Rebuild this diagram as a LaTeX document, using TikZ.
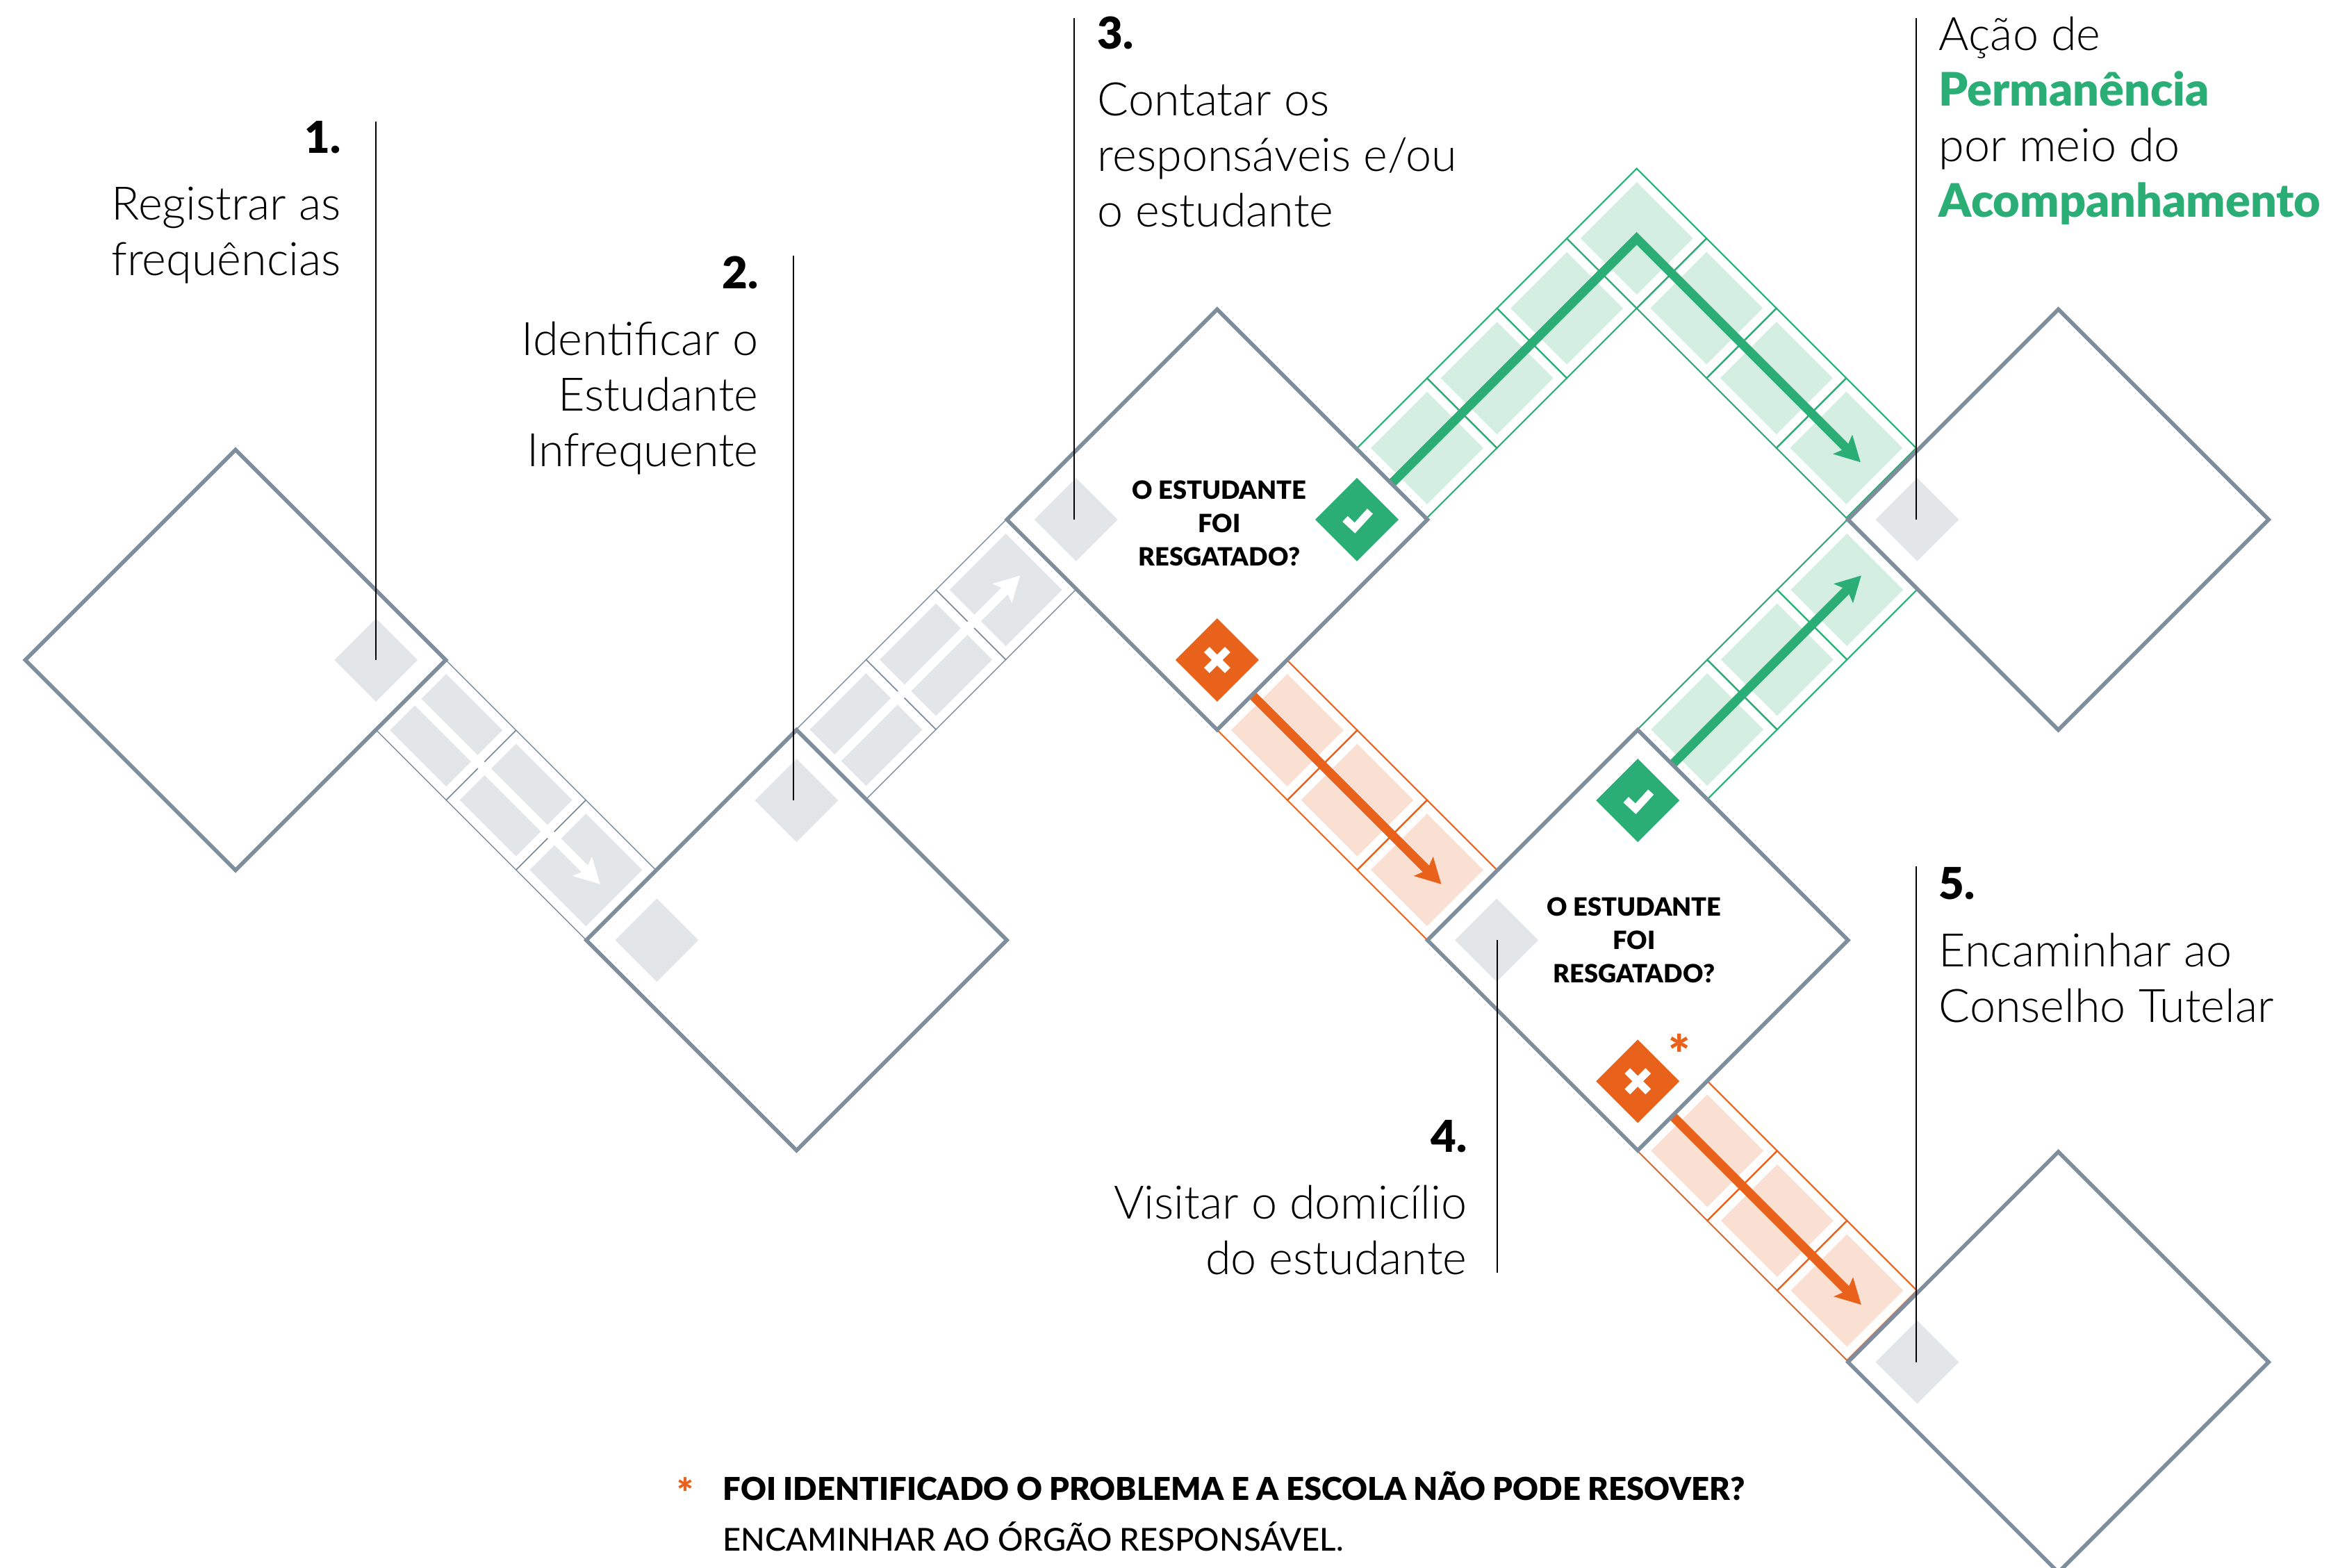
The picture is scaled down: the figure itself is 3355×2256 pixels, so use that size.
\documentclass[tikz,border=0pt]{standalone}
\usepackage{fontspec}
\setmainfont{Lato}[UprightFont=* Light,BoldFont=* Black]
\newfontfamily\capsfont{Lato Medium}
\usetikzlibrary{positioning}
\usetikzlibrary{shapes.geometric}
\usetikzlibrary{arrows.meta}
\definecolor{slate}{HTML}{7F8E9D}
\definecolor{mist}{HTML}{E3E6E9}
\definecolor{leaf}{HTML}{2AAE75}
\definecolor{paleleaf}{HTML}{D4EEE2}
\definecolor{rust}{HTML}{E8621B}
\definecolor{palerust}{HTML}{FADFD3}
\tikzset{
  gem/.style            = { diamond, aspect=1, inner sep=0pt, outer sep=0pt },
  stepbox/.style        = { gem, minimum size=60.5mm, draw=slate, line width=1.6pt },
  hub/.style            = { gem, minimum size=12mm, fill=mist },
  passbox/.style 2 args = { gem, minimum size=20.1mm, draw=#1, line width=#2 },
  inset/.style          = { path picture={\fill [#1] (path picture bounding box.center)
                            ++(0,-81) -- ++(81,81) -- ++(-81,81) -- ++(-81,-81) -- cycle;} },
  passgray/.style       = { passbox={slate}{.4pt}, inset=mist },
  passgreen/.style      = { passbox={leaf}{.6pt},  inset=paleleaf },
  passrust/.style       = { passbox={rust}{.6pt},  inset=palerust },
}
\tikzset{
  flow/.style           = { -{Stealth[length=10.2pt,width=10.8pt,inset=2pt]}, line width=3.7pt,
                            shorten >=4.2mm, miter limit=4 },
  leader/.style         = { draw=black, line width=.8pt },
  yesbox/.style         = { hub, fill=leaf, path picture={\draw [white,line width=3.1pt,
                            shift={(path picture bounding box.center)}] (-17,-1) -- (-3,12) -- (19,-12);} },
  nobox/.style          = { hub, fill=rust, path picture={\draw [white,line width=3.1pt,
                            shift={(path picture bounding box.center)}] (-15,-15) -- (15,15) (-15,15) -- (15,-15);} },
  body/.style           = { inner sep=0pt, font=\fontsize{18.9}{22.8}\selectfont },
  title/.style          = { body, font=\fontsize{18}{22.8}\selectfont\bfseries },
  question/.style       = { inner sep=0pt, align=center, font=\fontsize{10.3}{13.6}\selectfont\bfseries },
}

\begin{document}
\begin{tikzpicture}[
  x=.01cm,y=-.01cm,
  node distance=10.05mm and 10.05mm,on grid,
]
  \useasboundingbox (0,0) rectangle (3355,2256);

  \node (stepa) [stepbox,draw=none] at (339,950)                  {};
  \node (stepb) [stepbox,draw=none,below right=40.3mm and 80.7mm of stepa] {};
  \node (stepc) [stepbox,draw=none,above right=60.5mm and 60.5mm of stepb] {};
  \node (stepd) [stepbox,draw=none,below right=60.5mm and 60.5mm of stepc] {};
  \node (stepe) [stepbox,draw=none,above right=60.5mm and 60.5mm of stepd] {};
  \node (stepf) [stepbox,draw=none,below=121.2mm of stepe]                 {};

  \node (graya) [passgray,below right=10.1mm and 30.3mm of stepa]  {};
  \node (grayb) [passgray,below right=of graya]                    {};
  \node (grayc) [passgray,below right=of grayb]                    {};
  \node (grayd) [passgray,above right=30.3mm and 10mm of stepb]    {};
  \node (graye) [passgray,above right=of grayd]                    {};
  \node (grayf) [passgray,above right=of graye]                    {};

  \node (greena) [passgreen,above right=10.3mm and 30.2mm of stepc] {};
  \node (greenb) [passgreen,above right=of greena]                  {};
  \node (greenc) [passgreen,above right=of greenb]                  {};
  \node (greend) [passgreen,above right=of greenc]                  {};
  \node (greene) [passgreen,below right=of greend]                  {};
  \node (greenf) [passgreen,below right=of greene]                  {};
  \node (greeng) [passgreen,below right=of greenf]                  {};
  \node (greenh) [passgreen,above right=30.3mm and 10mm of stepd]   {};
  \node (greeni) [passgreen,above right=of greenh]                  {};
  \node (greenj) [passgreen,above right=of greeni]                  {};

  \node (rusta) [passrust,below right=30.3mm and 10.1mm of stepc]   {};
  \node (rustb) [passrust,below right=of rusta]                     {};
  \node (rustc) [passrust,below right=of rustb]                     {};
  \node (rustd) [passrust,below right=30.3mm and 10mm of stepd]     {};
  \node (ruste) [passrust,below right=of rustd]                     {};
  \node (rustf) [passrust,below right=of ruste]                     {};

  \draw [flow,white] (graya.north west) -- (grayc.south east);
  \draw [flow,white] (grayd.south west) -- (grayf.north east);
  \draw [flow,leaf]  (greena.south west) -- (greend.center) -- (greeng.south east);
  \draw [flow,leaf]  (greenh.south west) -- (greenj.north east);
  \draw [flow,rust]  (rusta.north west) -- (rustc.south east);
  \draw [flow,rust]  (rustd.north west) -- (rustf.south east);

  \node (boxa) [stepbox] at (stepa) {};
  \node (boxb) [stepbox] at (stepb) {};
  \node (boxc) [stepbox] at (stepc) {};
  \node (boxd) [stepbox] at (stepd) {};
  \node (boxe) [stepbox] at (stepe) {};
  \node (boxf) [stepbox] at (stepf) {};

  \node (huba)  [hub,right=20.2mm of stepa] {};
  \node (hubb)  [hub,above=20.1mm of stepb] {};
  \node (hubbb) [hub,left=20.1mm of stepb]  {};
  \node (hubc)  [hub,left=20.3mm of stepc]  {};
  \node (hubd)  [hub,left=20.3mm of stepd]  {};
  \node (hube)  [hub,left=20.3mm of stepe]  {};
  \node (hubf)  [hub,left=20.3mm of stepf]  {};

  \node (yesc) [yesbox,right=20.1mm of stepc] {};
  \node (noc)  [nobox,below=20.2mm of stepc]  {};
  \node (yesd) [yesbox,above=20.1mm of stepd] {};
  \node (nod)  [nobox,below=20.3mm of stepd]  {};
  \node (star) [text=rust,font=\fontsize{21}{21}\selectfont\bfseries,inner sep=0pt] at (2417,1516) {*};

  \node (askc) [question] at (1755,753)  {O ESTUDANTE\\FOI\\RESGATADO?};
  \node (askd) [question] at (2352,1353) {O ESTUDANTE\\FOI\\RESGATADO?};

  \coordinate (topa) at (541,175);
  \coordinate (topb) at (1142,368);
  \coordinate (topc) at (1546,26);
  \coordinate (topd) at (2155,1832);
  \coordinate (tope) at (2758,26);
  \coordinate (topf) at (2758,1247);
  \draw [leader] (topa) -- (topa |- huba);
  \draw [leader] (topb) -- (topb |- hubb);
  \draw [leader] (topc) -- (topc |- hubc);
  \draw [leader] (topd) -- (topd |- hubd);
  \draw [leader] (tope) -- (tope |- hube);
  \draw [leader] (topf) -- (topf |- hubf);

  \node (titlea) [title,anchor=base east] at (491,220)   {1.};
  \node (texta)  [body,anchor=north east,align=right] at (491,268)  {Registrar as\\frequências};
  \node (titleb) [title,anchor=base east] at (1092,415)  {2.};
  \node (textb)  [body,anchor=north east,align=right] at (1092,462) {Identificar o\\Estudante\\Infrequente};
  \node (titlec) [title,anchor=base west] at (1579,70)   {3.};
  \node (textc)  [body,anchor=north west,align=left] at (1579,118) {Contatar os\\responsáveis e/ou\\o estudante};
  \node (texte)  [body,anchor=north west,align=left] at (2790,23)  {Ação de\\\textcolor{leaf}{\textbf{Permanência}}\\por meio do\\\textcolor{leaf}{\textbf{Acompanhamento}}};
  \node (titlef) [title,anchor=base west] at (2790,1294) {5.};
  \node (textf)  [body,anchor=north west,align=left] at (2790,1342) {Encaminhar ao\\Conselho Tutelar};
  \node (titled) [title,anchor=base east] at (2112,1658) {4.};
  \node (textd)  [body,anchor=north east,align=right] at (2112,1705) {Visitar o domicílio\\do estudante};

  \node (note)  [inner sep=0pt,text=rust,font=\fontsize{16}{16}\selectfont\bfseries] at (986,2148) {*};
  \node (notea) [inner sep=0pt,anchor=base west,font=\fontsize{12.9}{15}\selectfont\bfseries] at (1040,2159) {FOI IDENTIFICADO O PROBLEMA E A ESCOLA NÃO PODE RESOVER?};
  \node (noteb) [inner sep=0pt,anchor=base west,font=\fontsize{12.9}{15}\capsfont] at (1040,2232) {ENCAMINHAR AO ÓRGÃO RESPONSÁVEL.};
\end{tikzpicture}
\end{document}
